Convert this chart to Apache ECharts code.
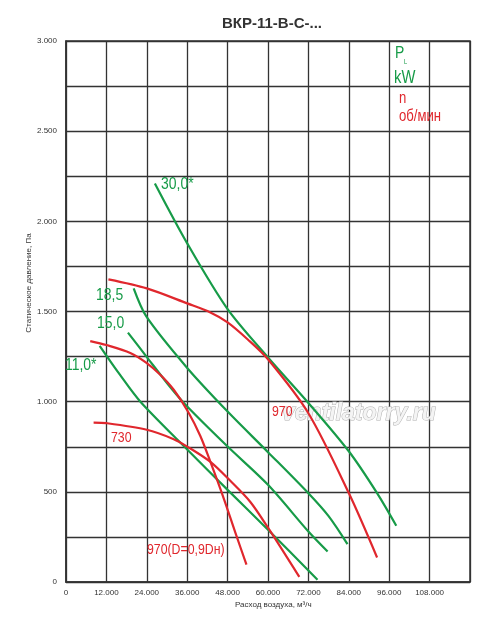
<!DOCTYPE html>
<html>
<head>
<meta charset="utf-8">
<script src="https://cdn.jsdelivr.net/npm/echarts@6/dist/echarts.min.js"></script>
<style>
  html, body { margin: 0; background: #fff; }
  #main { width: 500px; height: 625px; }
</style>
</head>
<body>
<div id="main"></div>
<script>
// расход воздуха (м3/ч) / статическое давление (Па)
let xLabels = ["0", "12.000", "24.000", "36.000", "48.000", "60.000", "72.000", "84.000", "96.000", "108.000"];
let yLabels = ["0", "500", "1.000", "1.500", "2.000", "2.500", "3.000"];

// мощность, кВт (зелёные)
let kw30 = [[26400, 2210], [36000, 1878], [48000, 1513], [60000, 1245], [72000, 993], [84000, 725], [92400, 493], [98100, 312]];
let kw185 = [[20100, 1628], [23900, 1471], [36000, 1187], [48000, 945], [60000, 720], [72000, 492], [78000, 365], [83600, 210]];
let kw150 = [[18400, 1383], [23900, 1250], [31000, 1080], [36000, 973], [48000, 751], [60000, 539], [72000, 280], [77700, 169]];
let kw110 = [[10000, 1310], [16000, 1150], [22100, 1000], [36000, 735], [48000, 511], [60000, 290], [74700, 13]];

// обороты, об/мин (красные)
let n970 = [[12600, 1678], [24000, 1628], [36000, 1545], [42900, 1495], [48000, 1440], [54000, 1345], [60000, 1235], [72000, 936], [84000, 493], [92400, 136]];
let n730 = [[8200, 884], [12000, 881], [24000, 844], [32000, 792], [36000, 751], [42900, 666], [48800, 561], [54700, 445], [60000, 301], [69300, 28]];
let n970d = [[7200, 1336], [12000, 1314], [19100, 1270], [23900, 1215], [28000, 1149], [32000, 1066], [36300, 943], [39900, 810], [42900, 666], [47000, 456], [50300, 274], [53600, 96]];

let green = "#179b48";
let red = "#e0272d";
let sans = "'Liberation Sans', Arial, sans-serif";

let myChart = echarts.init(document.getElementById("main"), null, { renderer: "canvas" });

let curve = (data, color) => ({
  type: "line",
  data: data,
  smooth: 0.3,
  showSymbol: false,
  lineStyle: { color: color, width: 2.2 },
  z: 3,
});

// подписи узким шрифтом: обычный sans, сжатый по ширине
let txt = (x, y, text, color, size) => ({
  type: "text",
  x: x,
  y: y,
  scaleX: 0.82,
  z: 10,
  style: { text: text, fill: color, font: size + "px " + sans, verticalAlign: "top" },
});

let option = {
  animation: false,
  title: {
    text: "ВКР-11-В-С-...",
    left: 267,
    top: 11,
    textAlign: "center",
    textStyle: { fontFamily: sans, fontWeight: "bold", fontSize: 15, color: "#333" },
  },
  grid: {
    left: 66,
    right: 30,
    top: 41,
    bottom: 43,
    show: true,
    borderColor: "#333",
    borderWidth: 1.5,
  },
  xAxis: {
    type: "value",
    min: 0,
    max: 120000,
    interval: 12000,
    axisLine: { lineStyle: { color: "#333", width: 1.5 } },
    axisTick: { show: false },
    axisLabel: {
      color: "#333",
      fontSize: 8,
      fontFamily: sans,
      margin: 7,
      formatter: (v) => xLabels[Math.round(v / 12000)] || "",
    },
    splitLine: { show: true, lineStyle: { color: "#333", width: 1.3 } },
  },
  yAxis: {
    type: "value",
    min: 0,
    max: 3000,
    interval: 250,
    axisLine: { show: true, lineStyle: { color: "#333", width: 1.5 } },
    axisTick: { show: false },
    axisLabel: {
      color: "#333",
      fontSize: 8,
      fontFamily: sans,
      margin: 9,
      formatter: (v) => (v % 500 ? "" : yLabels[v / 500]),
    },
    splitLine: { show: true, lineStyle: { color: "#333", width: 1.3 } },
  },
  graphic: [
    // водяной знак
    {
      type: "text",
      x: 282,
      y: 402,
      z: 1,
      style: {
        text: "ventilatorry.ru",
        font: "italic bold 23px " + sans,
        fill: "#f4f4f4",
        stroke: "#b0b0b0",
        lineWidth: 1,
        verticalAlign: "top",
      },
    },
    txt(395, 45, "P", green, 17),
    txt(404, 59, "L", green, 7),
    txt(394, 69, "kW", green, 18),
    txt(399, 91, "n", red, 16),
    txt(399, 109, "об/мин", red, 16),
    txt(161, 176, "30,0*", green, 17),
    txt(96, 287, "18,5", green, 17),
    txt(97, 315, "15,0", green, 17),
    txt(65, 357, "11,0*", green, 17),
    txt(111, 430, "730", red, 15),
    txt(272, 404, "970", red, 15),
    txt(147, 542, "970(D=0,9Dн)", red, 15),
    {
      type: "text",
      x: 235,
      y: 601,
      style: { text: "Расход воздуха, м³/ч", fill: "#333", font: "8px " + sans, verticalAlign: "top" },
    },
    {
      type: "text",
      x: 29,
      y: 283,
      rotation: Math.PI / 2,
      style: {
        text: "Статическое давление, Па",
        fill: "#333",
        font: "8px " + sans,
        align: "center",
        verticalAlign: "middle",
      },
    },
  ],
  series: [
    curve(kw30, green),
    curve(kw185, green),
    curve(kw150, green),
    curve(kw110, green),
    curve(n970, red),
    curve(n730, red),
    curve(n970d, red),
  ],
};

myChart.setOption(option);
</script>
</body>
</html>
